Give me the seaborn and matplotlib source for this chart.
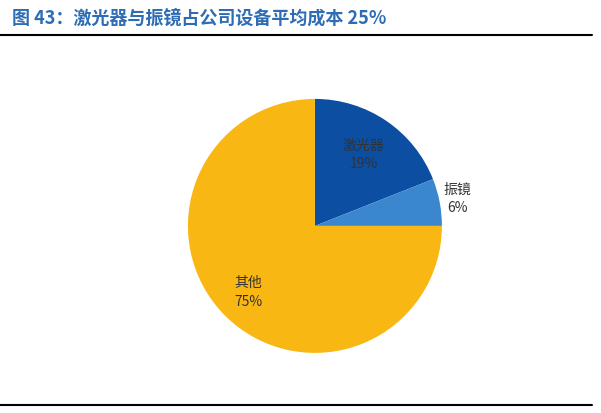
import matplotlib
matplotlib.use("Agg")
import matplotlib.pyplot as plt
import seaborn as sns
import numpy as np

sns.set_theme(style="white")
plt.rcParams['font.family'] = ['Noto Sans CJK SC', 'DejaVu Sans']

labels = ["激光器", "振镜", "其他"]
values = [19, 6, 75]
colors = ["#0B4EA2", "#3A87D0", "#F9B713"]
title = "图 43：激光器与振镜占公司设备平均成本 25%"

fig = plt.figure(figsize=(6.01, 4.13), dpi=100)
ax = fig.add_axes([0.524 - 0.2113, 0.453 - 0.3075, 0.4226, 0.615])
wedges, _ = ax.pie(values, colors=colors, startangle=90, counterclock=False,
                   wedgeprops=dict(linewidth=0))
ax.set_aspect('equal')
ax.set_xlim(-1, 1)
ax.set_ylim(-1, 1)
dists = [0.68, 1.14, 0.74]
for w, lab, v, d in zip(wedges, labels, values, dists):
    ang = np.deg2rad((w.theta1 + w.theta2) / 2)
    x, y = d * np.cos(ang), d * np.sin(ang)
    ax.text(x, y, f"{lab}\n{v}%", ha='center', va='center', fontsize=10,
            color='#333333', linespacing=1.4)

fig.text(0.02, 0.955, title, fontsize=13, fontweight='bold', color='#2E6DB4',
         va='center', ha='left')
fig.add_artist(plt.Line2D([0.0, 0.985], [0.915, 0.915], color='black', lw=1.5))
fig.add_artist(plt.Line2D([0.0, 0.985], [0.02, 0.02], color='black', lw=1.5))
fig.savefig("out.png", dpi=100)
